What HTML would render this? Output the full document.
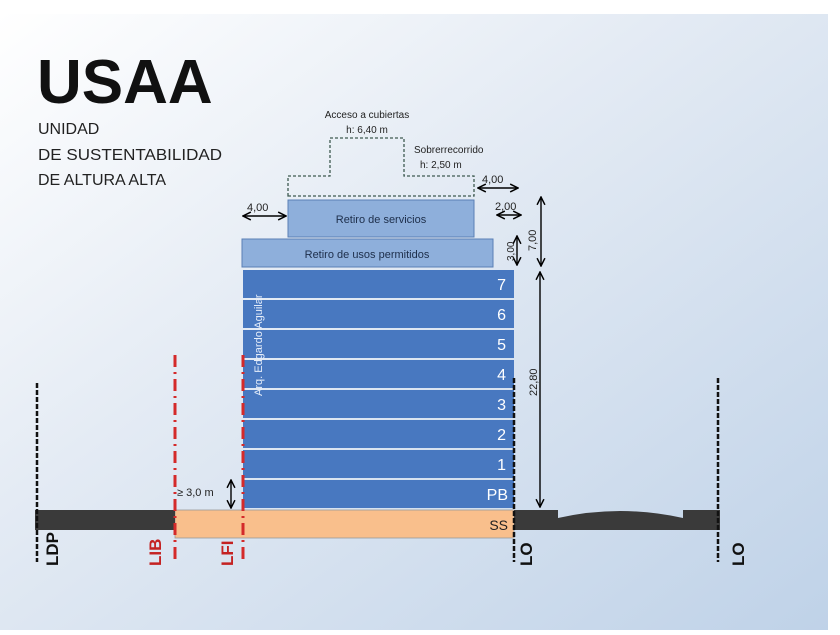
<!DOCTYPE html>
<html><head><meta charset="utf-8"><style>
html,body{margin:0;padding:0;}
body{width:840px;height:630px;overflow:hidden;font-family:"Liberation Sans",sans-serif;}
</style></head><body>
<svg width="840" height="630" viewBox="0 0 840 630" xmlns="http://www.w3.org/2000/svg" font-family="Liberation Sans, sans-serif">
<defs>
<linearGradient id="bg" x1="0" y1="0" x2="1" y2="1">
<stop offset="0" stop-color="#ffffff"/><stop offset="0.4" stop-color="#e4ebf4"/><stop offset="1" stop-color="#bfd2e8"/>
</linearGradient>
<marker id="ah" viewBox="0 0 10 10" refX="9" refY="5" markerWidth="7" markerHeight="7" orient="auto-start-reverse">
<path d="M1,1 L9,5 L1,9" fill="none" stroke="#000" stroke-width="1.5"/>
</marker>
</defs>
<rect width="840" height="630" fill="#fff"/>
<rect x="0" y="14" width="828" height="616" fill="url(#bg)"/>

<text x="37" y="103" font-size="62" font-weight="bold" fill="#111">USAA</text>
<g font-size="16" fill="#222">
<text x="38" y="134">UNIDAD</text>
<text x="38" y="160" textLength="184" lengthAdjust="spacingAndGlyphs">DE SUSTENTABILIDAD</text>
<text x="38" y="185">DE ALTURA ALTA</text>
</g>

<path d="M288,196 L288,176 L330,176 L330,138 L404,138 L404,176 L474,176 L474,196 Z" fill="none" stroke="#3e5a50" stroke-width="1.3" stroke-dasharray="3,2"/>
<text x="367" y="118" font-size="10" text-anchor="middle" fill="#222">Acceso a cubiertas</text>
<text x="367" y="133" font-size="10" text-anchor="middle" fill="#222">h: 6,40 m</text>
<text x="414" y="153" font-size="10" fill="#222">Sobrerrecorrido</text>
<text x="420" y="168" font-size="10" fill="#222">h: 2,50 m</text>

<rect x="288" y="200" width="186" height="37" fill="#8eafdb" stroke="#5a7fb5"/>
<text x="381" y="223" font-size="11" text-anchor="middle" fill="#1d2e4a">Retiro de servicios</text>
<rect x="242" y="239" width="251" height="28" fill="#8eafdb" stroke="#5a7fb5"/>
<text x="367" y="258" font-size="11" text-anchor="middle" fill="#1d2e4a">Retiro de usos permitidos</text>

<g fill="#4878c0">
<rect x="243" y="270" width="271" height="28"/>
<rect x="243" y="300" width="271" height="28"/>
<rect x="243" y="330" width="271" height="28"/>
<rect x="243" y="360" width="271" height="28"/>
<rect x="243" y="390" width="271" height="28"/>
<rect x="243" y="420" width="271" height="28"/>
<rect x="243" y="450" width="271" height="28"/>
<rect x="243" y="480" width="271" height="28"/>
</g>
<g font-size="16" fill="#fff" text-anchor="end">
<text x="506" y="290">7</text><text x="506" y="320">6</text><text x="506" y="350">5</text>
<text x="506" y="380">4</text><text x="506" y="410">3</text><text x="506" y="440">2</text>
<text x="506" y="470">1</text><text x="508" y="500">PB</text>
</g>
<text transform="translate(262,396) rotate(-90)" font-size="11" fill="#e6eefa">Arq. Edgardo Aguilar</text>

<rect x="175" y="510" width="339" height="28" fill="#f9bf8c" stroke="#999" stroke-width="0.8"/>
<text x="508" y="530" font-size="14" fill="#222" text-anchor="end">SS</text>

<rect x="35" y="510" width="140" height="20" fill="#3a3a3a"/>
<path d="M514,510 L558,510 L558,518 Q620,504 683,518 L683,510 L720,510 L720,530 L514,530 Z" fill="#3a3a3a"/>

<g stroke-width="2.5" fill="none">
<line x1="37" y1="383" x2="37" y2="562" stroke="#111" stroke-dasharray="5,2"/>
<line x1="514" y1="378" x2="514" y2="562" stroke="#111" stroke-dasharray="5,2"/>
<line x1="718" y1="378" x2="718" y2="562" stroke="#111" stroke-dasharray="5,2"/>
<line x1="175" y1="355" x2="175" y2="562" stroke="#d42a2a" stroke-width="3" stroke-dasharray="12,5,2,5"/>
<line x1="243" y1="355" x2="243" y2="562" stroke="#d42a2a" stroke-width="3" stroke-dasharray="12,5,2,5"/>
</g>
<g font-size="17" font-weight="bold">
<text transform="translate(58,566) rotate(-90)" fill="#111">LDP</text>
<text transform="translate(161,566) rotate(-90)" fill="#c42222">LIB</text>
<text transform="translate(233,566) rotate(-90)" fill="#c42222">LFI</text>
<text transform="translate(532,566) rotate(-90)" fill="#111">LO</text>
<text transform="translate(744,566) rotate(-90)" fill="#111">LO</text>
</g>

<g stroke="#000" stroke-width="1.4" marker-start="url(#ah)" marker-end="url(#ah)">
<line x1="540" y1="272" x2="540" y2="507"/>
<line x1="541" y1="197" x2="541" y2="266"/>
<line x1="517" y1="236" x2="517" y2="265"/>
<line x1="497" y1="215" x2="521" y2="215"/>
<line x1="478" y1="188" x2="518" y2="188"/>
<line x1="243" y1="216" x2="286" y2="216"/>
<line x1="231" y1="480" x2="231" y2="508"/>
</g>
<g font-size="11" fill="#222">
<text x="247" y="211">4,00</text>
<text x="482" y="183">4,00</text>
<text x="495" y="210">2,00</text>
<text transform="translate(514,261) rotate(-90)" font-size="10">3,00</text>
<text transform="translate(536,251) rotate(-90)">7,00</text>
<text transform="translate(537,396) rotate(-90)">22,80</text>
<text x="177" y="496">≥ 3,0 m</text>
</g>
</svg>
</body></html>
